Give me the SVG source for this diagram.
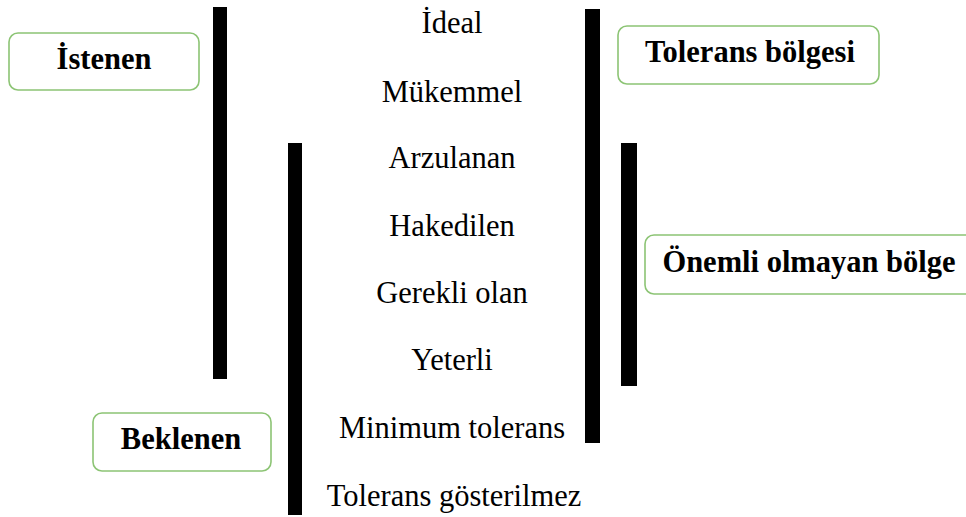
<svg xmlns="http://www.w3.org/2000/svg" width="966" height="517" viewBox="0 0 966 517">
  <style>
    .box { fill: #ffffff; stroke: #8cc474; stroke-width: 1.6; }
    .lbl { font-family: "Liberation Serif", "Times New Roman", serif; font-weight: bold; font-size: 30.5px; fill: #000; text-anchor: middle; }
    .lvl { font-family: "Liberation Serif", "Times New Roman", serif; font-size: 30.5px; fill: #000; text-anchor: middle; }
    .bar { fill: #000; }
  </style>
  <rect width="966" height="517" fill="#ffffff"/>

  <!-- range bars -->
  <g id="connectors">
    <rect class="bar" x="213" y="7" width="14" height="372"/>
    <rect class="bar" x="288" y="143" width="14" height="372"/>
    <rect class="bar" x="585" y="9" width="15" height="434"/>
    <rect class="bar" x="621" y="143" width="16" height="243"/>
  </g>

  <!-- category labels -->
  <g id="istenen">
    <rect class="box" x="9" y="33" width="190" height="57" rx="9"/>
    <text class="lbl" x="104" y="69">İstenen</text>
  </g>
  <g id="beklenen">
    <rect class="box" x="93" y="413" width="178" height="58" rx="9"/>
    <text class="lbl" x="181" y="449">Beklenen</text>
  </g>
  <g id="tolerans-bolgesi">
    <rect class="box" x="618" y="26" width="261" height="58" rx="9"/>
    <text class="lbl" x="750" y="62">Tolerans bölgesi</text>
  </g>
  <g id="onemli-olmayan-bolge">
    <rect class="box" x="645" y="235" width="330" height="59" rx="9"/>
    <text class="lbl" x="809" y="272">Önemli olmayan bölge</text>
  </g>

  <!-- service levels, top to bottom -->
  <g id="levels">
    <text class="lvl" x="452" y="33">İdeal</text>
    <text class="lvl" x="452" y="102">Mükemmel</text>
    <text class="lvl" x="452" y="168">Arzulanan</text>
    <text class="lvl" x="452" y="236">Hakedilen</text>
    <text class="lvl" x="452" y="303">Gerekli olan</text>
    <text class="lvl" x="452" y="370">Yeterli</text>
    <text class="lvl" x="452" y="438">Minimum tolerans</text>
    <text class="lvl" x="454" y="506">Tolerans gösterilmez</text>
  </g>
</svg>
